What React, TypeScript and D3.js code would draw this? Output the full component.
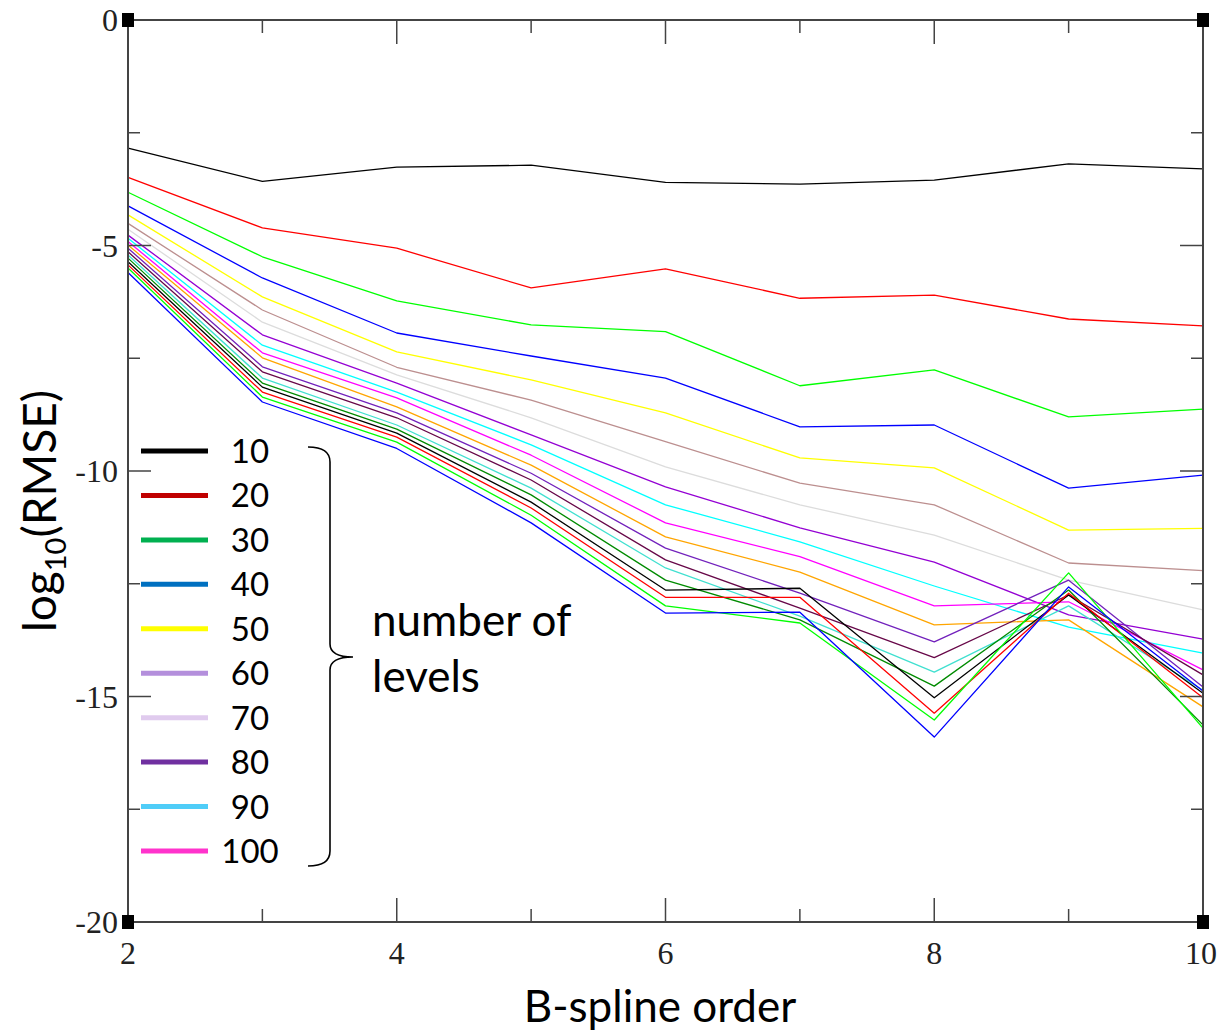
import React from "react";
import * as d3 from "d3";

// B-spline orders (x axis)
const orders = [2, 3, 4, 5, 6, 7, 8, 9, 10];

// log10(RMSE) per curve, top to bottom at x = 2
const s01 = [-2.84, -3.58, -3.26, -3.22, -3.6, -3.64, -3.55, -3.19, -3.3];
const s02 = [-3.49, -4.61, -5.06, -5.94, -5.52, -6.17, -6.1, -6.63, -6.78];
const s03 = [-3.82, -5.25, -6.23, -6.76, -6.91, -8.11, -7.76, -8.8, -8.63];
const s04 = [-4.12, -5.72, -6.94, -7.45, -7.94, -9.02, -8.98, -10.38, -10.09];
const s05 = [-4.32, -6.14, -7.36, -7.98, -8.71, -9.71, -9.93, -11.31, -11.27];
const s06 = [-4.51, -6.43, -7.7, -8.43, -9.35, -10.27, -10.75, -12.04, -12.21];
const s07 = [-4.64, -6.7, -7.87, -8.82, -9.91, -10.75, -11.42, -12.42, -13.08];
const s08 = [-4.77, -6.98, -8.05, -9.2, -10.35, -11.26, -12.02, -13.19, -13.73];
const s09 = [-4.84, -7.21, -8.25, -9.42, -10.75, -11.57, -12.55, -13.46, -14.04];
const s10 = [-4.91, -7.38, -8.38, -9.65, -11.15, -11.9, -12.99, -12.9, -14.41];
const s11 = [-4.99, -7.49, -8.58, -9.87, -11.46, -12.24, -13.41, -13.3, -15.23];
const s12 = [-5.06, -7.69, -8.71, -10.05, -11.71, -12.71, -13.79, -12.42, -14.79];
const s13 = [-5.14, -7.8, -8.82, -10.2, -11.97, -13.04, -14.14, -12.75, -14.52];
const s14 = [-5.21, -7.94, -8.98, -10.38, -12.15, -13.22, -14.46, -12.99, -14.86];
const s15 = [-5.28, -8.05, -9.07, -10.53, -12.42, -13.3, -14.77, -12.64, -15.63];
const s16 = [-5.36, -8.14, -9.16, -10.69, -12.64, -12.6, -15.03, -12.75, -14.93];
const s17 = [-5.43, -8.25, -9.25, -10.82, -12.8, -12.8, -15.37, -12.71, -15.03];
const s18 = [-5.5, -8.36, -9.36, -10.98, -12.99, -13.37, -15.52, -12.26, -15.7];
const s19 = [-5.6, -8.47, -9.5, -11.15, -13.15, -13.13, -15.9, -12.57, -14.88];

const seriesValues = [s01, s02, s03, s04, s05, s06, s07, s08, s09, s10, s11, s12, s13, s14, s15, s16, s17, s18, s19];
const seriesColors = [
  "#000000", "#ff0000", "#00ff00", "#0000ff", "#ffff00", "#bc8f8f", "#dcdcdc",
  "#9400d3", "#00ffff", "#ff00ff", "#ffa500", "#7221bc", "#670748", "#40e0d0",
  "#008b00", "#000000", "#ff0000", "#00ff00", "#0000ff",
];

// legend
const legendLabels = ["10", "20", "30", "40", "50", "60", "70", "80", "90", "100"];
const legendColors = ["#000000", "#c00000", "#00b050", "#0070c0", "#ffff00", "#b48fdc", "#e0cbee", "#7030a0", "#4fcdf8", "#ff33cc"];

const xTicksMajor = [2, 4, 6, 8, 10];
const xTicksMinor = [3, 5, 7, 9];
const yTicksMajor = [0, -5, -10, -15, -20];
const yTicksMinor = [-2.5, -7.5, -12.5, -17.5];

const W = 1219, H = 1032;
const L = 128, R = 1203, T = 20, B = 922;

export default function App() {
  const x = d3.scaleLinear().domain([2, 10]).range([L, R]);
  const y = d3.scaleLinear().domain([-20, 0]).range([B, T]);
  const line = d3.line<number>().x((_, i) => x(orders[i])).y((v) => y(v));
  const axisColor = "#444";
  const serif = "'Liberation Serif', 'Times New Roman', serif";
  const sans = "Lato, 'Open Sans', sans-serif";

  const legendY = d3.scaleLinear().domain([0, 9]).range([451, 851]);

  return (
    <svg width={W} height={H} style={{ position: "absolute", left: 0, top: 0, background: "#fff" }}>
      <rect x={0} y={0} width={W} height={H} fill="#fff" />
      {/* data lines */}
      <g fill="none" strokeWidth={1.3} strokeLinejoin="round">
        {seriesValues.map((s, i) => (
          <path key={i} d={line(s) || ""} stroke={seriesColors[i]} />
        ))}
      </g>

      {/* frame */}
      <rect x={L} y={T} width={R - L} height={B - T} fill="none" stroke={axisColor} strokeWidth={2} />

      {/* ticks */}
      <g stroke={axisColor} strokeWidth={1.5}>
        {xTicksMajor.map((t) => (
          <g key={"xm" + t}>
            <line x1={x(t)} x2={x(t)} y1={B} y2={B - 24} />
            <line x1={x(t)} x2={x(t)} y1={T} y2={T + 24} />
          </g>
        ))}
        {xTicksMinor.map((t) => (
          <g key={"xn" + t}>
            <line x1={x(t)} x2={x(t)} y1={B} y2={B - 13} />
            <line x1={x(t)} x2={x(t)} y1={T} y2={T + 13} />
          </g>
        ))}
        {yTicksMajor.map((t) => (
          <g key={"ym" + t}>
            <line x1={L} x2={L + 23} y1={y(t)} y2={y(t)} />
            <line x1={R} x2={R - 23} y1={y(t)} y2={y(t)} />
          </g>
        ))}
        {yTicksMinor.map((t) => (
          <g key={"yn" + t}>
            <line x1={L} x2={L + 12} y1={y(t)} y2={y(t)} />
            <line x1={R} x2={R - 12} y1={y(t)} y2={y(t)} />
          </g>
        ))}
      </g>

      {/* corner squares */}
      {[[L, T], [R, T], [L, B], [R, B]].map(([cx, cy], i) => (
        <rect key={i} x={cx - 6} y={cy - 7} width={12} height={14} fill="#000" />
      ))}

      {/* tick labels */}
      <g fontFamily={serif} fontSize={32} fill="#222">
        {xTicksMajor.map((t) => (
          <text key={"xl" + t} x={x(t) + (t === 10 ? -2 : 0)} y={964} textAnchor="middle">{t}</text>
        ))}
        {yTicksMajor.map((t) => (
          <text key={"yl" + t} x={118} y={y(t) + 11} textAnchor="end">{t}</text>
        ))}
      </g>

      {/* axis titles */}
      <text x={660} y={1022} textAnchor="middle" fontFamily={sans} fontSize={44} fill="#000">B-spline order</text>
      <text transform="translate(56,511) rotate(-90)" textAnchor="middle" fontFamily={sans} fontSize={46} fill="#000">
        log<tspan fontSize={29} dy={10}>10</tspan><tspan dy={-10}>(RMSE)</tspan>
      </text>

      {/* legend */}
      {legendLabels.map((lab, i) => (
        <g key={lab}>
          <line x1={141} x2={208} y1={legendY(i)} y2={legendY(i)} stroke={legendColors[i]} strokeWidth={5} />
          <text x={250} y={legendY(i) + 12} textAnchor="middle" fontFamily={sans} fontSize={33} fill="#000">{lab}</text>
        </g>
      ))}
      <path
        d="M 308 447 Q 330 447 330 462 L 330 644 Q 330 657 353 657 Q 330 657 330 670 L 330 851 Q 330 866 308 866"
        fill="none" stroke="#000" strokeWidth={1.6}
      />
      <text x={372} y={636} fontFamily={sans} fontSize={44} fill="#000">number of</text>
      <text x={372} y={692} fontFamily={sans} fontSize={44} fill="#000">levels</text>
    </svg>
  );
}
